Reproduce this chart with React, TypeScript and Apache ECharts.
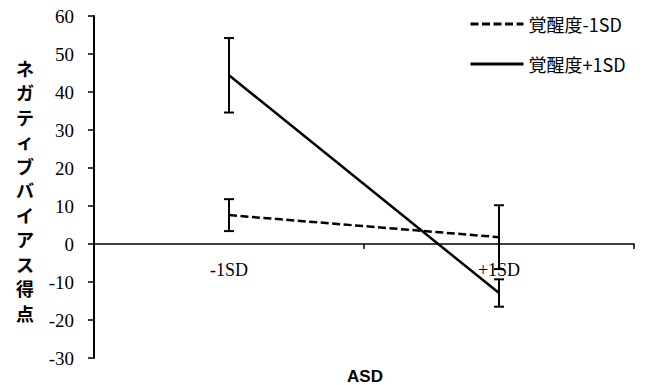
import React, { useEffect, useRef } from "react";
import * as echarts from "echarts";

const categories = ["-1SD", "+1SD"];
const seriesNames = ["覚醒度-1SD", "覚醒度+1SD"];
const lowArousal = [7.6, 1.8];
const lowArousalErr = [4.2, 8.4];
const highArousal = [44.4, -12.9];
const highArousalErr = [9.8, 3.6];
const yTicks = { min: -30, max: 60, interval: 10 };
const yTitle = "ネガティブバイアス得点";
const xTitle = "ASD";

const SERIF = "'Times New Roman', 'Liberation Serif', serif";

export default function App() {
  const ref = useRef<HTMLDivElement>(null);
  useEffect(() => {
    if (!ref.current) return;
    document.body.style.margin = "0";
    const chart = echarts.init(ref.current, null, { renderer: "svg" });
    const errData: number[][] = [];
    [
      [lowArousal, lowArousalErr],
      [highArousal, highArousalErr],
    ].forEach(([vals, errs]) => {
      vals.forEach((v, i) => errData.push([i, v - errs[i], v + errs[i]]));
    });
    const gridTop = 16;
    const gridBottom = 27;
    const plotH = 385 - gridTop - gridBottom;
    const zeroOffset = -(plotH * (0 - yTicks.min)) / (yTicks.max - yTicks.min);
    chart.setOption({
      animation: false,
      grid: { left: 94, right: 16, top: gridTop, bottom: gridBottom },
      legend: {
        orient: "vertical",
        left: 464,
        top: 10,
        itemWidth: 53,
        itemHeight: 14,
        itemGap: 22,
        data: seriesNames,
        itemStyle: { color: "transparent", borderColor: "transparent", borderWidth: 0 },
        lineStyle: { width: 3 },
        textStyle: { fontSize: 18, color: "#000", fontFamily: "'Noto Sans CJK JP', sans-serif" },
      },
      xAxis: {
        type: "category",
        data: categories,
        boundaryGap: true,
        offset: zeroOffset,
        axisLine: { onZero: false, lineStyle: { color: "#000", width: 1.5 } },
        axisTick: { show: true, length: 5, lineStyle: { color: "#000", width: 1.5 } },
        axisLabel: { color: "#000", fontSize: 18, fontFamily: SERIF, margin: 17 },
      },
      yAxis: {
        type: "value",
        min: yTicks.min,
        max: yTicks.max,
        interval: yTicks.interval,
        splitLine: { show: false },
        axisLine: { show: true, onZero: false, lineStyle: { color: "#000", width: 2 } },
        axisTick: { show: true, length: 6, lineStyle: { color: "#000", width: 1.5 } },
        axisLabel: { color: "#000", fontSize: 19, fontFamily: SERIF, margin: 20 },
      },
      graphic: [
        {
          type: "text",
          x: 25,
          y: 190,
          style: {
            text: yTitle.split("").join("\n"),
            fontSize: 18,
            fontWeight: "bold",
            fontFamily: "'Noto Sans CJK JP', sans-serif",
            lineHeight: 24.5,
            align: "center",
            verticalAlign: "middle",
            fill: "#000",
          },
        },
        {
          type: "text",
          x: 365,
          y: 376,
          style: {
            text: xTitle,
            fontSize: 17,
            fontWeight: "bold",
            fontFamily: "'Liberation Sans', sans-serif",
            align: "center",
            verticalAlign: "middle",
            fill: "#000",
          },
        },
      ],
      series: [
        {
          name: seriesNames[0],
          type: "line",
          data: lowArousal,
          symbol: "none",
          lineStyle: { color: "#000", width: 2.5, type: [8, 3.5] },
          itemStyle: { color: "#000" },
          z: 3,
        },
        {
          name: seriesNames[1],
          type: "line",
          data: highArousal,
          symbol: "none",
          lineStyle: { color: "#000", width: 2.5, type: "solid" },
          itemStyle: { color: "#000" },
          z: 3,
        },
        {
          type: "custom",
          data: errData,
          encode: { x: 0, y: [1, 2] },
          z: 4,
          renderItem: (params: any, api: any) => {
            const x = api.value(0);
            const lo = api.coord([x, api.value(1)]);
            const hi = api.coord([x, api.value(2)]);
            const half = 5;
            const style = { stroke: "#000", lineWidth: 2 };
            return {
              type: "group",
              children: [
                { type: "line", shape: { x1: lo[0], y1: lo[1], x2: hi[0], y2: hi[1] }, style },
                { type: "line", shape: { x1: lo[0] - half, y1: lo[1], x2: lo[0] + half, y2: lo[1] }, style },
                { type: "line", shape: { x1: hi[0] - half, y1: hi[1], x2: hi[0] + half, y2: hi[1] }, style },
              ],
            };
          },
        },
      ],
    });
    return () => chart.dispose();
  }, []);
  return <div ref={ref} style={{ width: 650, height: 385 }} />;
}
